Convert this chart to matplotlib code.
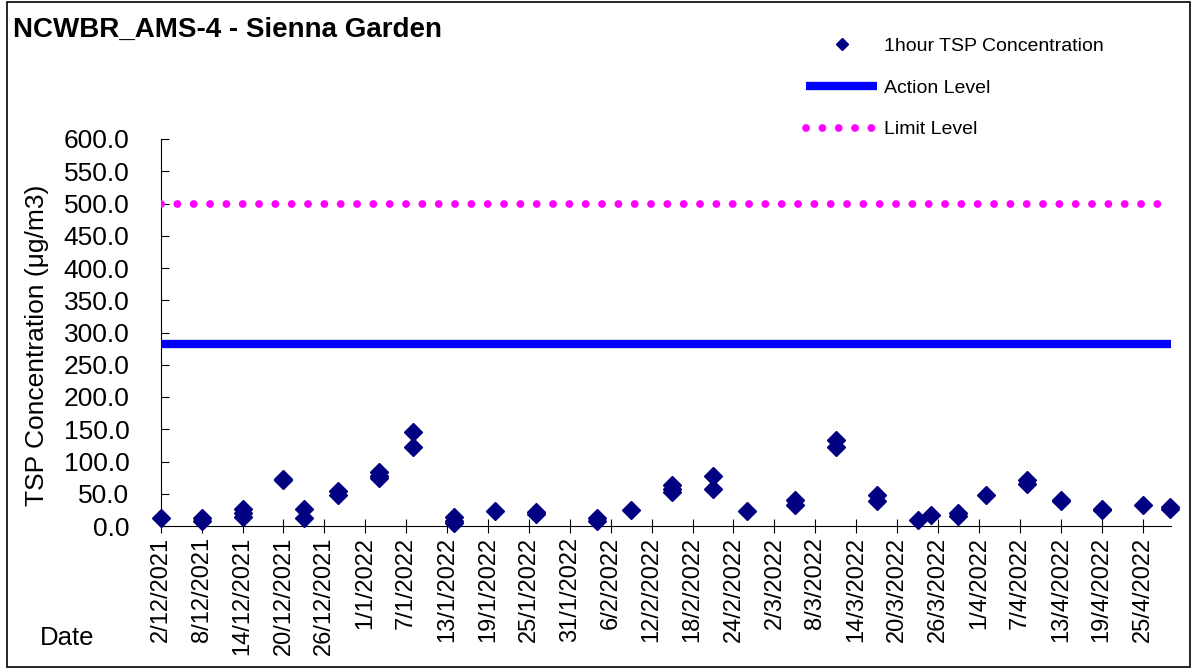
import matplotlib
matplotlib.use("Agg")
import matplotlib.pyplot as plt
from matplotlib.patches import Rectangle
import pandas as pd

plt.rcParams['font.family'] = ['Liberation Sans', 'DejaVu Sans']

# ---- data ----
sample_dates = [
    "2/12/2021", "8/12/2021", "8/12/2021",
    "14/12/2021", "14/12/2021", "14/12/2021",
    "20/12/2021", "20/12/2021",
    "23/12/2021", "23/12/2021",
    "28/12/2021", "28/12/2021",
    "3/1/2022", "3/1/2022", "3/1/2022",
    "8/1/2022", "8/1/2022",
    "14/1/2022", "14/1/2022", "14/1/2022",
    "20/1/2022",
    "26/1/2022", "26/1/2022",
    "4/2/2022", "4/2/2022",
    "9/2/2022",
    "15/2/2022", "15/2/2022", "15/2/2022",
    "21/2/2022", "21/2/2022",
    "26/2/2022",
    "5/3/2022", "5/3/2022",
    "11/3/2022", "11/3/2022",
    "17/3/2022", "17/3/2022",
    "23/3/2022",
    "25/3/2022",
    "29/3/2022", "29/3/2022",
    "2/4/2022",
    "8/4/2022", "8/4/2022",
    "13/4/2022", "13/4/2022",
    "19/4/2022", "19/4/2022",
    "25/4/2022",
    "29/4/2022", "29/4/2022",
]
tsp_values = [
    13, 12, 8,
    26, 20, 14,
    73, 71,
    26, 13,
    55, 48,
    83, 77, 75,
    145, 122,
    14, 8, 5,
    23,
    22, 19,
    12, 7,
    25,
    64, 58, 53,
    77, 58,
    23,
    41, 32,
    134, 122,
    48, 38,
    10,
    17,
    20, 16,
    48,
    71, 65,
    41, 39,
    27, 25,
    33,
    30, 26,
]
action_level = 282
limit_level = 500
axis_start = "2/12/2021"
axis_end = "29/4/2022"
tick_step_days = 6
y_ticks = [0, 50, 100, 150, 200, 250, 300, 350, 400, 450, 500, 550, 600]

# ---- figure ----
W, H = 1198, 671
fig = plt.figure(figsize=(W / 100, H / 100), dpi=100)
ax = fig.add_axes([160.7 / W, 1 - 526 / H, (1171 - 160.7) / W, (526 - 139) / H])

x = pd.to_datetime(sample_dates, dayfirst=True)
x0 = pd.to_datetime(axis_start, dayfirst=True)
x1 = pd.to_datetime(axis_end, dayfirst=True)
x1_lim = x1 + pd.Timedelta(hours=4)

ax.plot(x, tsp_values, linestyle='none', marker='D', markersize=9,
        color='#000080', markeredgecolor='#000080', label='1hour TSP Concentration',
        zorder=4, clip_on=False)
ax.plot([x0, x1_lim], [action_level, action_level], color='#0000FF', linewidth=6,
        solid_capstyle='butt', label='Action Level', zorder=3)
ax.plot([x0, x1_lim], [limit_level, limit_level], color='#FF00FF', linewidth=5.6,
        linestyle=(0, (0.01, 2.09)), dash_capstyle='round', label='Limit Level',
        zorder=3)

ax.set_xlim(x0, x1_lim)
ax.set_ylim(0, 600)

ticks = pd.date_range(x0, x1, freq=f'{tick_step_days}D')
ax.set_xticks(ticks)
ax.set_xticklabels([f"{d.day}/{d.month}/{d.year}" for d in ticks], rotation=90,
                   fontsize=17)
ax.set_yticks(y_ticks)
ax.set_yticklabels([f"{v:.1f}" for v in y_ticks], fontsize=19)

ax.tick_params(axis='x', direction='inout', length=10, width=0.8, pad=3)
ax.tick_params(axis='y', direction='in', length=6, width=0.8, pad=22.5)

for s in ['top', 'right']:
    ax.spines[s].set_visible(False)
for s in ['left', 'bottom']:
    ax.spines[s].set_linewidth(0.8)
    ax.spines[s].set_color('black')

ax.set_ylabel('TSP Concentration (\u03bcg/m3)', fontsize=19)
ax.yaxis.set_label_coords((37 - 160.7) / (1171 - 160.7), 0.468)
ax.yaxis.label.set_va('center')

fig.text(40 / W, 1 - 638 / H, 'Date', fontsize=18.5, va='center', ha='left')
fig.text(13 / W, 1 - 36.7 / H, 'NCWBR_AMS-4 - Sienna Garden', fontsize=20,
         fontweight='bold', va='baseline', ha='left')

leg = ax.legend(loc='upper left', bbox_to_anchor=(806 / W, 1 - 37 / H),
                bbox_transform=fig.transFigure, frameon=False, fontsize=14,
                handlelength=3.66, handletextpad=0.36, labelspacing=1.25,
                borderpad=0, borderaxespad=0, markerscale=0.65)

fig.add_artist(Rectangle((7 / W, 4 / H), (1190 - 7) / W, (669 - 4) / H,
                         transform=fig.transFigure, fill=False,
                         edgecolor='black', linewidth=1.2))

fig.savefig('out.png', dpi=100)
